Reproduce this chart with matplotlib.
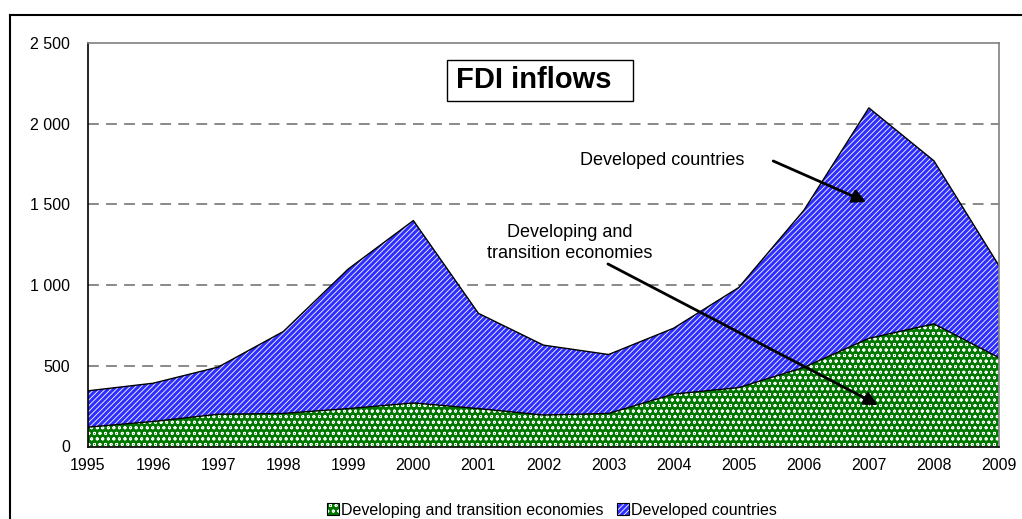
import matplotlib.pyplot as plt
from matplotlib.patches import Patch, Rectangle
from matplotlib.lines import Line2D
from matplotlib.ticker import FuncFormatter

years = [1995, 1996, 1997, 1998, 1999, 2000, 2001, 2002,
         2003, 2004, 2005, 2006, 2007, 2008, 2009]
developing = [120, 155, 200, 205, 235, 270, 235, 195,
              205, 325, 365, 490, 670, 760, 550]
developed = [225, 237, 292, 507, 865, 1130, 590, 433,
             365, 408, 620, 973, 1428, 1010, 570]
y_ticks = [0, 500, 1000, 1500, 2000, 2500]
series_names = ["Developing and transition economies", "Developed countries"]

plt.rcParams["font.family"] = ["Liberation Sans", "DejaVu Sans"]
plt.rcParams["hatch.linewidth"] = 0.6

GREEN = "#007800"
BLUE = "#2e2eff"
GREEN_HATCH = "ooo"
BLUE_HATCH = "//////"

W, H = 1022, 519
fig = plt.figure(figsize=(W / 100, H / 100), dpi=100)
ax = fig.add_axes([88 / W, 1 - 446.5 / H, (999 - 88) / W, (446.5 - 43) / H])

total = [a + b for a, b in zip(developing, developed)]

# заливки со штриховкой
ax.fill_between(years, 0, developing, facecolor=GREEN, edgecolor="white",
                hatch=GREEN_HATCH, linewidth=0, zorder=2)
ax.fill_between(years, developing, total, facecolor=BLUE, edgecolor="white",
                hatch=BLUE_HATCH, linewidth=0, zorder=2)
ax.plot(years, developing, color="black", lw=1, zorder=3)
ax.plot(years, total, color="black", lw=1, zorder=3)

ax.set_xlim(years[0], years[-1])
ax.set_ylim(0, 2500)
ax.set_xticks(years)
ax.set_yticks(y_ticks)
ax.yaxis.set_major_formatter(FuncFormatter(lambda v, p: f"{int(v):,}".replace(",", " ")))
ax.tick_params(length=0, labelsize=11.5, colors="black")
ax.tick_params(axis="x", pad=8)
ax.tick_params(axis="y", pad=13)

for v in y_ticks[1:-1]:
    ax.axhline(v, color="#808080", lw=1.3, ls=(0, (6, 4)), zorder=1)

ax.spines["left"].set_color("black")
ax.spines["bottom"].set_color("black")
ax.spines["top"].set_color("#808080")
ax.spines["right"].set_color("#808080")
for s in ax.spines.values():
    s.set_linewidth(1.2)
    s.set_zorder(4)

# заголовок в рамке
ax.add_patch(Rectangle((2000.51, 2142), 2003.38 - 2000.51, 2395 - 2142,
                       facecolor="white", edgecolor="black", lw=1, zorder=5))
ax.text(2001.85, 2268, "FDI inflows", ha="center", va="center",
        fontsize=21, fontweight="bold", zorder=6)

ax.text(2003.82, 1775, "Developed countries", ha="center", va="center", fontsize=13)
ax.annotate("", xy=(2006.96, 1515), xytext=(2005.53, 1769),
            arrowprops=dict(arrowstyle="-|>", color="black", lw=2, mutation_scale=20,
                            shrinkA=0, shrinkB=0), zorder=5)

ax.text(2002.41, 1262, "Developing and\ntransition economies", ha="center", va="center",
        fontsize=13, linespacing=1.3)
ax.annotate("", xy=(2007.14, 257), xytext=(2002.99, 1131),
            arrowprops=dict(arrowstyle="-|>", color="black", lw=2, mutation_scale=20,
                            shrinkA=0, shrinkB=0), zorder=5)

handles = [
    (Patch(facecolor=GREEN, edgecolor="white", hatch=GREEN_HATCH, lw=0),
     Patch(facecolor="none", edgecolor="black", lw=0.8)),
    (Patch(facecolor=BLUE, edgecolor="white", hatch=BLUE_HATCH, lw=0),
     Patch(facecolor="none", edgecolor="black", lw=0.8)),
]
fig.legend(handles=handles, labels=series_names, loc="center",
           bbox_to_anchor=(552 / W, 1 - 510 / H), ncol=2,
           frameon=False, fontsize=11.5, handlelength=0.75, handleheight=0.75,
           handletextpad=0.15, columnspacing=0.8, borderaxespad=0)

# внешняя рамка
fig.add_artist(Line2D([10 / W, 10 / W], [0, 1 - 14.5 / H], color="black", lw=1.5,
                      transform=fig.transFigure))
fig.add_artist(Line2D([10 / W, 1], [1 - 14.5 / H, 1 - 14.5 / H], color="black", lw=1.5,
                      transform=fig.transFigure))

fig.savefig("out.png", dpi=100)
